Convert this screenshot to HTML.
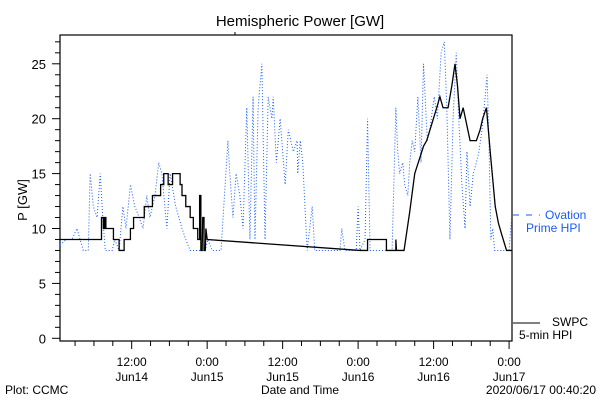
<!DOCTYPE html>
<html><head><meta charset="utf-8"><style>
body{margin:0;background:#fff}
svg{display:block;font-family:"Liberation Sans",sans-serif}
</style></head><body>
<svg id="c" width="600" height="400" xmlns="http://www.w3.org/2000/svg">
<rect width="600" height="400" fill="#fff"/>
<text x="300" y="26" text-anchor="middle" font-size="15">Hemispheric Power [GW]</text>
<text transform="translate(27,200) rotate(-90)" text-anchor="middle" font-size="13">P [GW]</text>
<text x="300" y="394" text-anchor="middle" font-size="12">Date and Time</text>
<text x="5" y="394" font-size="12">Plot: CCMC</text>
<text x="596" y="394" text-anchor="end" font-size="12">2020/06/17 00:40:20</text>
<g>
<line x1="513" y1="215" x2="540" y2="215" stroke="#1a5cf0" stroke-dasharray="6,7"/>
<text x="545" y="219" font-size="12" fill="#1a5cf0">Ovation</text>
<text x="526" y="232" font-size="12" fill="#1a5cf0">Prime HPI</text>
<line x1="513" y1="323" x2="540" y2="323" stroke="#000"/>
<text x="552" y="326" font-size="12">SWPC</text>
<text x="519" y="339" font-size="12">5-min HPI</text>
</g>
<g id="axes"></g>
<g id="series"></g>
</svg>
<script>
const yTickValues=[0,5,10,15,20,25];
const xTickHours=[12,24,36,48,60,72];
const xTickLabels=[["12:00","Jun14"],["0:00","Jun15"],["12:00","Jun15"],["0:00","Jun16"],["12:00","Jun16"],["0:00","Jun17"]];
const swpcHours=[0.6,7.2,7.2,7.5,7.5,7.7,7.7,7.9,7.9,9.1,9.1,10,10,10.8,10.8,11.8,11.8,12.3,12.3,14,14,15.3,15.3,16.6,16.6,17.1,17.1,17.8,17.8,18.5,18.5,19.7,19.7,20,20,20.6,20.6,21.3,21.3,21.8,21.8,22.5,22.5,22.8,22.8,23,23,23.2,23.3,23.5,23.5,23.7,23.8,24,48.3,49.5,49.5,52.5,52.5,54,54,54.1,55.3,56.2,57,58.4,58.9,59.7,60.5,61,61.5,62.3,62.9,63.4,63.8,64.2,64.7,65.8,66.8,67.4,67.8,68.4,69,69.8,70.3,70.8,71.6,72.4];
const swpcValues=[9,9,11,11,10,10,11,11,10,10,9,9,8,8,9,9,10,10,11,11,12,12,13,13,14,14,15,15,14,14,15,15,14,14,13,13,12,12,11,11,10,10,9,9,13,13,8,8,11,11,8,8,10,9,8,8,9,9,8,8,9,8,8,11.5,15,17.5,18,19.5,21,22,21,21,23,25,23,20,21,18,18,19,20,21,17,12,10.5,9.5,8,8];
const ovationHours=[0.6,1.6,2.5,3.3,3.8,4.3,5.1,5.4,5.9,6.5,7.0,7.4,7.8,8.9,9.3,10.0,10.6,11.1,11.8,12.5,13.2,13.8,14.4,14.9,15.7,16.3,16.8,17.6,18.1,19.0,20.0,20.6,21.3,23.7,24.1,24.8,26.2,27.3,27.6,28.1,28.6,29.2,29.7,30.3,30.8,31.3,31.6,32.1,32.7,33.2,33.7,34.3,34.5,35.0,35.6,36.4,36.9,37.7,38.3,38.4,38.8,39.2,39.9,40.7,41.1,45.1,45.4,45.9,47.7,48.0,48.3,49.1,49.5,49.9,53.4,54.0,54.3,54.6,55.1,55.4,55.9,56.2,56.6,57.0,57.5,58.0,58.4,59.0,59.4,60.1,60.6,61.2,61.7,62.1,62.6,63.1,63.6,64.0,64.5,65.0,65.3,65.8,66.3,66.8,67.2,67.7,68.2,68.5,68.8,69.1,69.4,69.7,72.0,72.4];
const ovationValues=[8.5,9,9,10,9,8,8,15,12,11,15,11,8,8,9,8,12,10,14,12,11,10,13,11,13,16,15,10,15,12,10,9,8,8,9,8,8,18,15,11,15,13,10,21,9,22,9,21,25,9,22,20,22,16,20,14,19,17,18,15,18,16,8,12,8,8,10,8,8,12,8,9,20,8,8,21,17,15,16,14,13,16,18,17,22,16,25,18,19,22,20,26,27,21,9,20,26,20,14,10,17,12,15,16,17,19,22,24,18,9,10,8,8,11];

const L=60,R=512,T=35,B=341;
const x=h=>56.2+h*6.29;
const y=v=>338.3-v*10.98;
const NS="http://www.w3.org/2000/svg";
const axes=document.getElementById('axes'), series=document.getElementById('series');
function mk(tag,attrs,parent){const e=document.createElementNS(NS,tag);for(const k in attrs)e.setAttribute(k,attrs[k]);parent.appendChild(e);return e;}
const frame=mk('rect',{x:L,y:T,width:R-L,height:B-T,fill:'none',stroke:'#000','stroke-width':1.2},axes);


for(let v=0;v<=27;v++){
  const len=v%5===0?8:5;
  const t=mk('line',{x1:L-len,x2:L,y1:y(v),y2:y(v),stroke:'#000'},axes);
  
  
}
yTickValues.forEach(v=>{
  const t=mk('text',{x:L-14,y:y(v)+5,'text-anchor':'end','font-size':13},axes);
  t.textContent=v;
  
  
});
for(let h=3;h<=72;h+=3){
  const len=h%12===0?8:5;
  const t=mk('line',{x1:x(h),x2:x(h),y1:B,y2:B+len,stroke:'#000'},axes);
  
  
}
const tt=mk('line',{x1:235,x2:235,y1:T-3,y2:T,stroke:'#000'},axes);


xTickHours.forEach((h,i)=>{
  xTickLabels[i].forEach((s,j)=>{
    const t=mk('text',{x:x(h),y:366+j*15,'text-anchor':'middle','font-size':12},axes);
    t.textContent=s;
    
    
  });
});
const op=mk('polyline',{points:ovationHours.map((h,i)=>x(h)+','+y(ovationValues[i])).join(' '),fill:'none',stroke:'#1a5cf0','stroke-width':1,'stroke-dasharray':'1,2'},series);


const sw=mk('polyline',{points:swpcHours.map((h,i)=>x(h)+','+y(swpcValues[i])).join(' '),fill:'none',stroke:'#000','stroke-width':1.3},series);


</script>
</body></html>
